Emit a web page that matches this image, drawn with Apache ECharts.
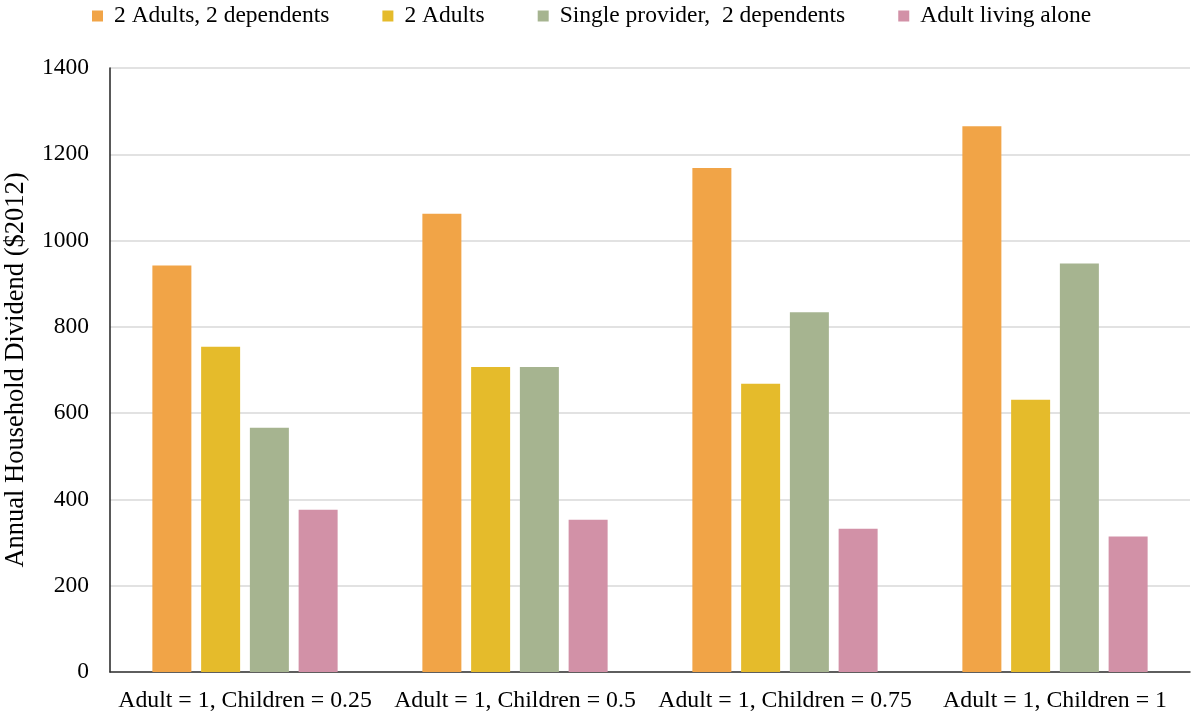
<!DOCTYPE html>
<html>
<head>
<meta charset="utf-8">
<script src="https://cdn.jsdelivr.net/npm/echarts@6/dist/echarts.min.js"></script>
<style>
  html, body { margin: 0; padding: 0; background: #ffffff; }
  #chart { width: 1191px; height: 714px; }
</style>
</head>
<body>
<div id="chart"></div>
<script>
// Dividend scenarios (weights for adults and children)
const categories = [
  'Adult = 1, Children = 0.25',
  'Adult = 1, Children = 0.5',
  'Adult = 1, Children = 0.75',
  'Adult = 1, Children = 1'
];

// Annual household dividend, $2012, by household type
const twoAdultsTwoDependents = [942, 1062, 1168, 1265];
const twoAdults = [754, 707, 668, 631];
const singleProviderTwoDependents = [566, 707, 834, 947];
const adultLivingAlone = [376, 353, 332, 314];

const seriesNames = [
  '2 Adults, 2 dependents',
  '2 Adults',
  'Single provider,  2 dependents',
  'Adult living alone'
];
const seriesColors = ['#F1A447', '#E5BB2B', '#A6B490', '#D291A7'];
const seriesValues = [twoAdultsTwoDependents, twoAdults, singleProviderTwoDependents, adultLivingAlone];

const FONT = '"Liberation Serif", "Times New Roman", serif';

const chart = echarts.init(document.getElementById('chart'), null, { renderer: 'canvas' });

chart.setOption({
  animation: false,
  backgroundColor: '#ffffff',
  textStyle: { fontFamily: FONT, color: '#000' },
  legend: {
    top: 4,
    left: 92,
    padding: 0,
    itemWidth: 11,
    itemHeight: 11,
    itemGap: 53,
    icon: 'rect',
    textStyle: { fontFamily: FONT, fontSize: 23.5, color: '#000', padding: [0, 0, 0, 6] },
    data: seriesNames
  },
  grid: { left: 110, right: 1, top: 68, bottom: 42, containLabel: false, outerBoundsMode: 'none' },
  xAxis: {
    type: 'category',
    data: categories,
    axisLine: { show: true, lineStyle: { color: '#333', width: 1.5 } },
    axisTick: { show: false },
    axisLabel: { fontFamily: FONT, fontSize: 23.8, color: '#000', margin: 17, interval: 0 }
  },
  yAxis: {
    type: 'value',
    min: 0,
    max: 1400,
    interval: 200,
    name: 'Annual Household Dividend ($2012)',
    nameLocation: 'middle',
    nameGap: 80,
    nameTextStyle: { fontFamily: FONT, fontSize: 26.5, color: '#000' },
    axisLine: { show: true, lineStyle: { color: '#222', width: 1.5 } },
    axisTick: { show: false },
    axisLabel: {
      fontFamily: FONT, fontSize: 23.5, color: '#000', margin: 21,
      formatter: (v) => String(v)
    },
    splitLine: { show: true, lineStyle: { color: '#D9D9D9', width: 1.5 } }
  },
  series: seriesNames.map((name, i) => ({
    name: name,
    type: 'bar',
    data: seriesValues[i],
    barWidth: 39,
    barGap: '25%',
    itemStyle: { color: seriesColors[i] }
  }))
});
</script>
</body>
</html>
